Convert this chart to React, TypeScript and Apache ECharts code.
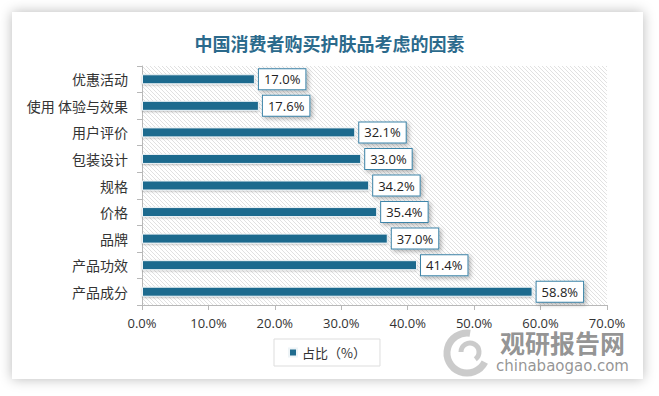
import React, { useEffect, useRef } from "react";
import * as echarts from "echarts";

const categories = ["优惠活动", "使用 体验与效果", "用户评价", "包装设计", "规格", "价格", "品牌", "产品功效", "产品成分"];
const values = [17.0, 17.6, 32.1, 33.0, 34.2, 35.4, 37.0, 41.4, 58.8];
const seriesName = "占比（%）";
const titleText = "中国消费者购买护肤品考虑的因素";
const xMin = 0;
const xMax = 70;
const xInterval = 10;

function makeHatch(): string {
  const s = 4;
  const c = document.createElement("canvas");
  c.width = s;
  c.height = s;
  const ctx = c.getContext("2d")!;
  ctx.fillStyle = "#ffffff";
  ctx.fillRect(0, 0, s, s);
  ctx.strokeStyle = "#dedede";
  ctx.lineWidth = 0.9;
  ctx.beginPath();
  ctx.moveTo(-1, -1);
  ctx.lineTo(s + 1, s + 1);
  ctx.moveTo(-1, s - 1);
  ctx.lineTo(1, s + 1);
  ctx.moveTo(s - 1, -1);
  ctx.lineTo(s + 1, 1);
  ctx.stroke();
  return c.toDataURL();
}

export default function App() {
  const ref = useRef<HTMLDivElement>(null);
  useEffect(() => {
    if (!ref.current) return;
    const chart = echarts.init(ref.current, undefined, { renderer: "svg" });
    const hatch = makeHatch();
    const cjk = "'Noto Sans CJK SC', 'Noto Sans', sans-serif";
    chart.setOption({
      animation: false,
      backgroundColor: "transparent",
      title: {
        text: titleText,
        left: "center",
        top: 29,
        textStyle: { fontSize: 18, fontWeight: "bold", color: "#2b6a8c", fontFamily: cjk },
      },
      grid: {
        left: 142,
        right: 52,
        top: 66,
        bottom: 91,
        show: true,
        borderWidth: 0,
        backgroundColor: { image: hatch, repeat: "repeat" },
      },
      legend: {
        left: 274,
        top: 339,
        padding: [7, 14, 7, 14],
        borderColor: "#dddddd",
        borderWidth: 1,
        itemWidth: 8,
        itemHeight: 8,
        icon: "rect",
        textStyle: { fontSize: 13, color: "#333", fontFamily: cjk },
        data: [seriesName],
      },
      xAxis: {
        type: "value",
        min: xMin,
        max: xMax,
        interval: xInterval,
        axisLine: { show: true, lineStyle: { color: "#b8b8b8" } },
        axisTick: { show: true, length: 5, lineStyle: { color: "#b8b8b8" } },
        splitLine: { show: false },
        axisLabel: {
          fontSize: 13,
          color: "#333",
          margin: 11,
          fontFamily: "'Open Sans', 'Noto Sans', sans-serif",
          formatter: (v: number) => v.toFixed(1) + "%",
        },
      },
      yAxis: {
        type: "category",
        inverse: true,
        data: categories,
        axisLine: { show: true, lineStyle: { color: "#b8b8b8" } },
        axisTick: { show: true, length: 5, lineStyle: { color: "#b8b8b8" } },
        axisLabel: { fontSize: 14, color: "#333", margin: 14, fontFamily: cjk },
      },
      series: [
        {
          name: seriesName,
          type: "bar",
          data: values,
          barWidth: 10,
          itemStyle: {
            color: "#1f6b8e",
            borderColor: "#eef4f7",
            borderWidth: 1,
            shadowBlur: 2,
            shadowColor: "rgba(0,0,0,0.25)",
            shadowOffsetY: 1,
          },
          label: {
            show: true,
            position: "right",
            distance: 4,
            formatter: (p: any) => Number(p.value).toFixed(1) + "%",
            fontSize: 13,
            color: "#222",
            fontFamily: "'Open Sans', 'Noto Sans', sans-serif",
            backgroundColor: "#ffffff",
            borderColor: "#3d84a8",
            borderWidth: 1,
            padding: [4, 5, 3, 5],
            shadowBlur: 4,
            shadowColor: "rgba(0,0,0,0.3)",
            shadowOffsetX: 2,
            shadowOffsetY: 2,
          },
        },
      ],
      graphic: [
        {
          type: "group",
          silent: true,
          z: 100,
          children: [
            {
              type: "arc",
              shape: { cx: 467, cy: 353, r: 20, startAngle: Math.PI * 0.15, endAngle: Math.PI * 1.55 },
              style: { stroke: "rgba(190,190,190,0.8)", lineWidth: 7, fill: "none" },
            },
            {
              type: "arc",
              shape: { cx: 470, cy: 352, r: 9, startAngle: Math.PI * 1.0, endAngle: Math.PI * 2.3 },
              style: { stroke: "rgba(190,190,190,0.8)", lineWidth: 5, fill: "none" },
            },
            {
              type: "text",
              x: 500,
              y: 329,
              style: {
                text: "观研报告网",
                fontSize: 25,
                fontWeight: "bold",
                fill: "rgba(120,120,120,0.8)",
                fontFamily: cjk,
              },
            },
            {
              type: "text",
              x: 496,
              y: 358,
              style: {
                text: "chinabaogao.com",
                fontSize: 15,
                fill: "rgba(130,130,130,0.85)",
                fontFamily: "'DejaVu Sans', sans-serif",
              },
            },
          ],
        },
      ],
    });
    return () => chart.dispose();
  }, []);
  return (
    <div style={{ position: "fixed", left: 0, top: 0, width: 659, height: 396, background: "#ffffff" }}>
      <div
        style={{
          position: "absolute",
          left: 12,
          top: 12,
          width: 631,
          height: 367,
          background: "#ffffff",
          boxShadow: "0 0 12px rgba(0,0,0,0.28)",
        }}
      />
      <div ref={ref} style={{ position: "absolute", left: 0, top: 0, width: 659, height: 396 }} />
    </div>
  );
}
